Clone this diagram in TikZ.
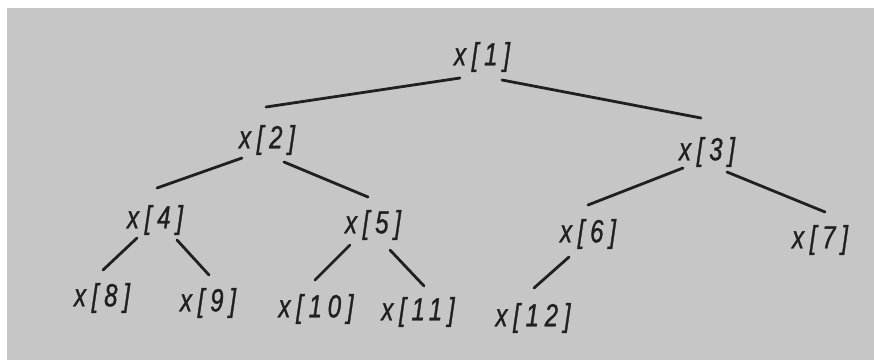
\documentclass[tikz,border=0pt]{standalone}
\usepackage{fontspec}
\newfontfamily\handfont[FakeStretch=0.75, LetterSpace=18, FakeBold=1]{Liberation Sans}
\definecolor{bggray}{RGB}{198,198,198}
\definecolor{ink}{RGB}{32,32,32}
\tikzset{
  lbl/.style={text=ink, inner sep=0pt, font=\handfont\itshape\fontsize{32}{36}\selectfont},
  edge/.style={draw=ink, line width=2.8pt, line cap=round}
}
\begin{document}
\begin{tikzpicture}[x=1pt,y=-1pt]
\useasboundingbox (0,0) rectangle (874,360);
\fill[white] (0,0) rectangle (874,360);
\fill[bggray] (7,8) rectangle (874,360);
\node[lbl] (x1) at (482,57) {x[1]};
\node[lbl] (x2) at (267,140) {x[2]};
\node[lbl] (x3) at (707,152) {x[3]};
\node[lbl] (x4) at (155,220) {x[4]};
\node[lbl] (x5) at (373,225) {x[5]};
\node[lbl] (x6) at (588,234) {x[6]};
\node[lbl] (x7) at (820,240) {x[7]};
\node[lbl] (x8) at (102,298) {x[8]};
\node[lbl] (x9) at (208,303) {x[9]};
\node[lbl] (x10) at (316,309) {x[10]};
\node[lbl] (x11) at (418,312) {x[11]};
\node[lbl] (x12) at (533,318) {x[12]};
\draw[edge] ([shift={(-22,21)}]x1.center) -- ([shift={(-1,-33)}]x2.center);
\draw[edge] ([shift={(20,23)}]x1.center) -- ([shift={(-6,-34)}]x3.center);
\draw[edge] ([shift={(-25,18)}]x2.center) -- ([shift={(2,-32)}]x4.center);
\draw[edge] ([shift={(17,22)}]x2.center) -- ([shift={(-5,-28)}]x5.center);
\draw[edge] ([shift={(-24,16)}]x3.center) -- ([shift={(0,-29)}]x6.center);
\draw[edge] ([shift={(20,20)}]x3.center) -- ([shift={(5,-28)}]x7.center);
\draw[edge] ([shift={(-18,18)}]x4.center) -- ([shift={(1,-28)}]x8.center);
\draw[edge] ([shift={(22,20)}]x4.center) -- ([shift={(1,-28)}]x9.center);
\draw[edge] ([shift={(-23,20)}]x5.center) -- ([shift={(-1,-29)}]x10.center);
\draw[edge] ([shift={(17,25)}]x5.center) -- ([shift={(6,-26)}]x11.center);
\draw[edge] ([shift={(-19,23)}]x6.center) -- ([shift={(1,-30)}]x12.center);
\end{tikzpicture}
\end{document}
